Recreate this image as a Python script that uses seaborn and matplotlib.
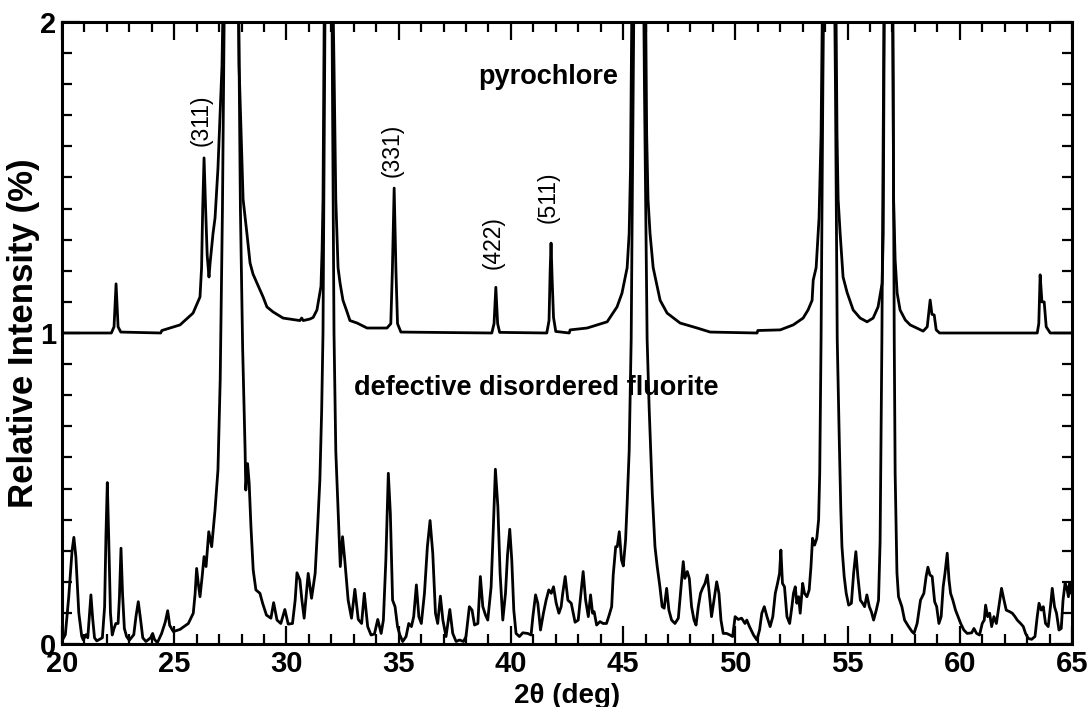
import numpy as np
import pandas as pd
import seaborn as sns
from matplotlib import pyplot as plt
from matplotlib.ticker import MultipleLocator

sns.set_style("ticks")
plt.rcParams['font.family'] = ['Liberation Sans', 'DejaVu Sans']
for k in ['text.color', 'axes.labelcolor', 'xtick.color', 'ytick.color', 'axes.edgecolor']:
    plt.rcParams[k] = 'black'

# pyrochlore pattern (offset by 1)
pyro_x = [20.0, 22.2, 22.32, 22.41, 22.5, 22.62, 24.4, 24.45, 25.26, 25.84,
          26.15, 26.22, 26.27, 26.33, 26.4, 26.47, 26.55, 26.6, 26.73, 26.82,
          26.95, 27.13, 27.3, 27.55, 27.8, 27.89, 27.98, 28.07, 28.24, 28.38,
          28.51, 28.69, 28.96, 29.13, 29.4, 29.85, 30.6, 30.68, 30.75, 31.05,
          31.19, 31.36, 31.54, 31.59, 31.63, 31.7, 31.88, 32.05, 32.12, 32.2,
          32.25, 32.3, 32.39, 32.52, 32.7, 32.83, 33.15, 33.59, 34.48, 34.65,
          34.72, 34.8, 34.88, 34.95, 35.1, 39.15, 39.25, 39.33, 39.41, 39.5,
          41.6, 41.7, 41.75, 41.79, 41.84, 41.9, 42.0, 42.6, 42.64, 43.4,
          44.29, 44.73, 44.95, 45.18, 45.27, 45.33, 45.38, 45.7, 46.01, 46.05,
          46.11, 46.2, 46.34, 46.52, 46.65, 46.96, 47.54, 48.3, 48.88, 50.97,
          51.0, 52.0, 52.58, 53.02, 53.24, 53.42, 53.47, 53.6, 53.73, 53.82,
          53.87, 54.18, 54.49, 54.53, 54.58, 54.67, 54.8, 54.98, 55.25, 55.56,
          55.87, 56.14, 56.36, 56.54, 56.59, 56.63, 56.82, 57.02, 57.05, 57.12,
          57.21, 57.34, 57.57, 57.79, 58.37, 58.55, 58.68, 58.76, 58.86, 58.95,
          59.1, 63.45, 63.52, 63.58, 63.66, 63.76, 63.85, 64.03, 65.0]
pyro_y = [1.0, 1.0, 1.02, 1.158, 1.02, 1.003, 1.0, 1.008, 1.026, 1.064,
          1.116, 1.21, 1.40, 1.563, 1.40, 1.25, 1.18, 1.225, 1.32, 1.37,
          1.53, 1.86, 2.6, 4.0, 2.6, 1.86, 1.64, 1.43, 1.32, 1.225,
          1.19, 1.16, 1.116, 1.084, 1.068, 1.048, 1.04, 1.048, 1.04, 1.045,
          1.05, 1.074, 1.15, 1.27, 1.43, 2.2, 4.0, 2.2, 1.86, 1.43,
          1.32, 1.21, 1.16, 1.105, 1.068, 1.04, 1.032, 1.016, 1.016, 1.03,
          1.2, 1.466, 1.2, 1.03, 1.003, 1.0, 1.03, 1.147, 1.03, 1.002,
          1.0, 1.04, 1.2, 1.289, 1.17, 1.05, 1.005, 1.0, 1.01, 1.016,
          1.036, 1.084, 1.128, 1.21, 1.32, 1.53, 2.0, 4.0, 2.0, 1.64,
          1.43, 1.32, 1.21, 1.15, 1.105, 1.064, 1.032, 1.016, 1.003, 1.0,
          1.008, 1.01, 1.026, 1.048, 1.074, 1.105, 1.17, 1.21, 1.37, 1.64,
          2.0, 4.0, 2.0, 1.64, 1.43, 1.32, 1.18, 1.13, 1.074, 1.048,
          1.036, 1.048, 1.084, 1.16, 1.32, 2.0, 4.0, 2.0, 1.43, 1.235,
          1.128, 1.074, 1.042, 1.026, 1.006, 1.02, 1.106, 1.06, 1.058, 1.01,
          1.0, 1.0, 1.03, 1.187, 1.1, 1.10, 1.02, 1.0, 1.0]

# defective disordered fluorite pattern
fluo_x = [20.0, 20.15, 20.3, 20.45, 20.53, 20.62, 20.75, 20.88, 20.95, 21.07, 21.15, 21.22,
          21.29, 21.37, 21.45, 21.55, 21.8, 21.9, 21.96, 22.02, 22.08, 22.16, 22.24, 22.32,
          22.4, 22.5, 22.56, 22.63, 22.7, 22.78, 22.88, 23.0, 23.2, 23.3, 23.4, 23.5,
          23.6, 23.74, 23.95, 24.04, 24.12, 24.25, 24.44, 24.6, 24.71, 24.8, 24.96, 25.26,
          25.63, 25.85, 25.93, 26.0, 26.08, 26.15, 26.25, 26.33, 26.42, 26.54, 26.67, 26.82,
          26.95, 27.05, 27.15, 27.3, 27.55, 27.8, 27.95, 28.05, 28.16, 28.19, 28.27, 28.34,
          28.42, 28.52, 28.64, 28.82, 28.94, 29.11, 29.31, 29.43, 29.58, 29.75, 29.93, 30.08,
          30.27, 30.39, 30.47, 30.6, 30.69, 30.79, 30.97, 31.12, 31.28, 31.39, 31.49, 31.57,
          31.63, 31.7, 31.88, 32.05, 32.12, 32.2, 32.32, 32.4, 32.5, 32.6, 32.75, 32.9,
          33.05, 33.2, 33.35, 33.47, 33.62, 33.77, 33.92, 34.07, 34.22, 34.32, 34.43, 34.54,
          34.63, 34.73, 34.84, 34.95, 35.05, 35.18, 35.33, 35.45, 35.57, 35.67, 35.79, 35.9,
          36.01, 36.15, 36.28, 36.4, 36.52, 36.64, 36.74, 36.86, 36.97, 37.11, 37.28, 37.41,
          37.56, 37.71, 37.89, 38.0, 38.15, 38.27, 38.38, 38.53, 38.64, 38.75, 38.87, 38.97,
          39.12, 39.22, 39.31, 39.42, 39.52, 39.64, 39.76, 39.85, 39.95, 40.04, 40.13, 40.23,
          40.38, 40.53, 40.75, 40.9, 40.98, 41.1, 41.2, 41.32, 41.45, 41.57, 41.69, 41.8,
          41.9, 42.02, 42.14, 42.24, 42.31, 42.42, 42.54, 42.69, 42.86, 43.0, 43.12, 43.22,
          43.33, 43.45, 43.55, 43.64, 43.71, 43.82, 43.97, 44.11, 44.26, 44.38, 44.49, 44.56,
          44.67, 44.74, 44.83, 44.93, 45.01, 45.11, 45.18, 45.27, 45.36, 45.45, 45.7, 45.95,
          46.07, 46.16, 46.3, 46.42, 46.52, 46.64, 46.74, 46.83, 46.94, 47.04, 47.16, 47.31,
          47.46, 47.58, 47.68, 47.75, 47.86, 47.95, 48.05, 48.16, 48.25, 48.35, 48.45, 48.54,
          48.65, 48.75, 48.84, 48.94, 49.05, 49.17, 49.27, 49.36, 49.46, 49.61, 49.76, 49.88,
          49.99, 50.13, 50.28, 50.43, 50.51, 50.63, 50.81, 50.96, 51.08, 51.18, 51.29, 51.41,
          51.55, 51.67, 51.78, 51.88, 51.97, 52.03, 52.1, 52.19, 52.3, 52.42, 52.52, 52.59,
          52.67, 52.74, 52.82, 52.89, 53.0, 53.08, 53.19, 53.29, 53.37, 53.44, 53.53, 53.63,
          53.71, 53.76, 53.82, 53.9, 54.18, 54.46, 54.54, 54.63, 54.7, 54.75, 54.85, 54.94,
          55.05, 55.17, 55.27, 55.37, 55.46, 55.57, 55.67, 55.76, 55.86, 55.97, 56.06, 56.16,
          56.28, 56.38, 56.45, 56.53, 56.6, 56.82, 57.03, 57.08, 57.12, 57.2, 57.27, 57.42,
          57.54, 57.72, 57.87, 57.96, 58.1, 58.25, 58.4, 58.5, 58.58, 58.67, 58.77, 58.88,
          58.97, 59.07, 59.17, 59.26, 59.34, 59.44, 59.52, 59.59, 59.69, 59.81, 59.92, 60.04,
          60.18, 60.33, 60.53, 60.63, 60.75, 60.88, 61.0, 61.09, 61.15, 61.24, 61.33, 61.42,
          61.52, 61.63, 61.74, 61.86, 61.97, 62.07, 62.22, 62.34, 62.46, 62.56, 62.71, 62.83,
          62.93, 63.05, 63.2, 63.35, 63.45, 63.53, 63.63, 63.72, 63.82, 63.94, 64.04, 64.12,
          64.22, 64.31, 64.42, 64.52, 64.6, 64.69, 64.76, 64.84, 64.9, 64.96]
fluo_y = [0.01, 0.03, 0.15, 0.30, 0.343, 0.28, 0.10, 0.025, 0.013, 0.03, 0.02, 0.09,
          0.158, 0.08, 0.02, 0.01, 0.02, 0.12, 0.35, 0.519, 0.35, 0.10, 0.029, 0.05,
          0.066, 0.066, 0.15, 0.308, 0.16, 0.05, 0.024, 0.012, 0.03, 0.09, 0.136, 0.08,
          0.02, 0.008, 0.02, 0.034, 0.015, 0.004, 0.034, 0.07, 0.107, 0.06, 0.04, 0.047,
          0.066, 0.099, 0.16, 0.243, 0.19, 0.152, 0.22, 0.281, 0.249, 0.361, 0.313, 0.431,
          0.56, 0.85, 1.4, 2.6, 4.0, 2.6, 1.4, 0.95, 0.62, 0.495, 0.58, 0.517,
          0.377, 0.238, 0.174, 0.163, 0.131, 0.093, 0.083, 0.133, 0.077, 0.066, 0.111, 0.064,
          0.066, 0.141, 0.229, 0.206, 0.141, 0.083, 0.227, 0.147, 0.227, 0.377, 0.527, 0.75,
          1.0, 1.8, 4.0, 1.8, 1.0, 0.62, 0.399, 0.249, 0.345, 0.27, 0.141, 0.083,
          0.176, 0.079, 0.066, 0.163, 0.056, 0.029, 0.032, 0.079, 0.034, 0.077, 0.27, 0.549,
          0.42, 0.141, 0.12, 0.056, 0.03, 0.008, 0.024, 0.066, 0.056, 0.088, 0.19, 0.088,
          0.066, 0.163, 0.313, 0.397, 0.292, 0.099, 0.066, 0.154, 0.077, 0.024, 0.111, 0.034,
          0.008, 0.013, 0.008, 0.024, 0.12, 0.109, 0.061, 0.066, 0.217, 0.12, 0.093, 0.077,
          0.184, 0.377, 0.562, 0.442, 0.227, 0.077, 0.163, 0.286, 0.369, 0.27, 0.109, 0.034,
          0.024, 0.036, 0.034, 0.029, 0.088, 0.158, 0.131, 0.045, 0.099, 0.141, 0.174, 0.163,
          0.184, 0.131, 0.099, 0.12, 0.163, 0.217, 0.141, 0.131, 0.07, 0.077, 0.163, 0.233,
          0.141, 0.088, 0.158, 0.099, 0.104, 0.061, 0.072, 0.066, 0.066, 0.093, 0.12, 0.222,
          0.313, 0.313, 0.361, 0.27, 0.251, 0.334, 0.452, 0.62, 0.98, 1.8, 4.0, 1.8,
          0.98, 0.76, 0.484, 0.313, 0.249, 0.184, 0.12, 0.115, 0.179, 0.109, 0.077, 0.066,
          0.083, 0.184, 0.265, 0.211, 0.233, 0.211, 0.12, 0.077, 0.061, 0.12, 0.163, 0.179,
          0.195, 0.222, 0.163, 0.088, 0.141, 0.2, 0.163, 0.077, 0.034, 0.034, 0.029, 0.024,
          0.088, 0.079, 0.083, 0.066, 0.077, 0.056, 0.029, 0.013, 0.045, 0.099, 0.12, 0.088,
          0.056, 0.088, 0.163, 0.195, 0.227, 0.302, 0.195, 0.184, 0.088, 0.066, 0.12, 0.163,
          0.184, 0.131, 0.152, 0.099, 0.195, 0.163, 0.152, 0.174, 0.249, 0.34, 0.318, 0.34,
          0.399, 0.55, 0.98, 1.8, 4.0, 1.8, 0.98, 0.66, 0.43, 0.313, 0.217, 0.163,
          0.125, 0.131, 0.227, 0.297, 0.217, 0.141, 0.131, 0.12, 0.158, 0.12, 0.104, 0.077,
          0.109, 0.141, 0.33, 0.98, 1.8, 4.0, 1.8, 0.98, 0.55, 0.23, 0.152, 0.12,
          0.077, 0.056, 0.04, 0.034, 0.066, 0.141, 0.163, 0.217, 0.247, 0.222, 0.217, 0.136,
          0.12, 0.066, 0.088, 0.184, 0.227, 0.292, 0.206, 0.163, 0.141, 0.109, 0.088, 0.066,
          0.045, 0.034, 0.036, 0.05, 0.034, 0.029, 0.066, 0.077, 0.125, 0.088, 0.099, 0.056,
          0.088, 0.066, 0.12, 0.179, 0.141, 0.109, 0.104, 0.099, 0.088, 0.077, 0.066, 0.056,
          0.034, 0.018, 0.015, 0.024, 0.088, 0.131, 0.109, 0.12, 0.066, 0.056, 0.12, 0.179,
          0.12, 0.099, 0.045, 0.05, 0.141, 0.195, 0.184, 0.152, 0.195, 0.163]

peak_labels = ['(311)', '(331)', '(422)', '(511)']
peak_label_x = [26.22, 34.7, 39.2, 41.66]
peak_label_y = [1.685, 1.587, 1.292, 1.436]

pyro = pd.DataFrame({'two_theta': pyro_x, 'intensity': pyro_y})
fluo = pd.DataFrame({'two_theta': fluo_x, 'intensity': fluo_y})

fig = plt.figure(figsize=(10.89, 7.07), dpi=100)
ax = fig.add_axes([0.0569, 0.0891, 0.9275, 0.8798])

for d in [pyro, fluo]:
    sns.lineplot(data=d, x='two_theta', y='intensity', ax=ax, color='black',
                 linewidth=2.0, estimator=None, sort=False)

ax.set_xlim(20, 65)
ax.set_ylim(0, 2)
ax.xaxis.set_major_locator(MultipleLocator(5))
ax.xaxis.set_minor_locator(MultipleLocator(1))
ax.set_yticks([0, 1, 2])
ax.yaxis.set_minor_locator(MultipleLocator(0.1))
ax.tick_params(which='both', direction='in', top=True, right=True, width=1.6, colors='black')
ax.tick_params(which='major', length=13, labelsize=21, pad=4)
ax.tick_params(which='minor', length=7.5)
for lab in ax.get_xticklabels() + ax.get_yticklabels():
    lab.set_fontweight('bold')
for s in ax.spines.values():
    s.set_linewidth(2.2)
    s.set_color('black')

ax.set_xlabel('2θ (deg)', fontsize=20, fontweight='bold', labelpad=4)
ax.set_ylabel('Relative Intensity (%)', fontsize=25, fontweight='bold', labelpad=0)

ax.text(41.67, 1.823, 'pyrochlore', fontsize=19.5, fontweight='bold', ha='center', va='center')
ax.text(41.12, 0.823, 'defective disordered fluorite', fontsize=19.5, fontweight='bold',
        ha='center', va='center')
for t, px, py in zip(peak_labels, peak_label_x, peak_label_y):
    ax.text(px, py, t, fontsize=16.5, rotation=90, ha='center', va='center')

fig.savefig('out.png', dpi=100)
